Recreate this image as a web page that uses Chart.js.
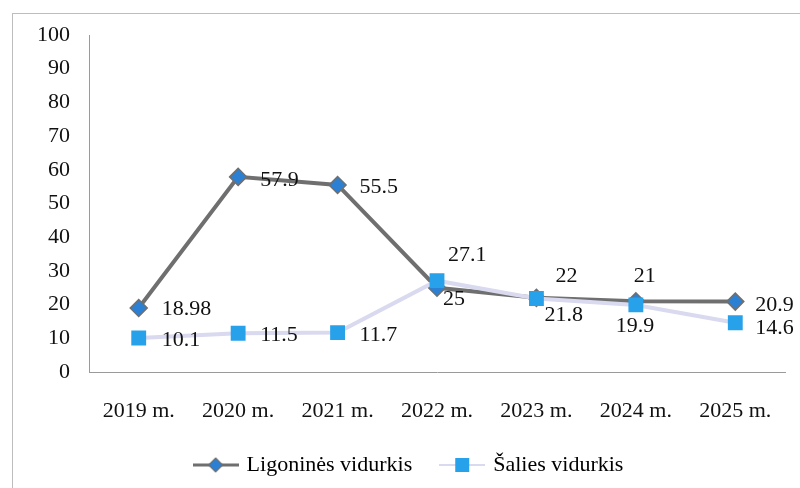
<!DOCTYPE html>
<html><head><meta charset="utf-8">
<script src="https://cdn.jsdelivr.net/npm/chart.js@4"></script>
<style>
html,body{margin:0;padding:0;background:#fff;}
#wrap{position:absolute;left:0;top:0;width:800px;height:488px;}
#frame{position:absolute;left:12px;top:13px;width:790px;height:480px;border:1px solid #bdbdbd;box-sizing:border-box;}
canvas{position:absolute;left:0;top:0;}
</style></head>
<body>
<div id="wrap"><div id="frame"></div><canvas id="c" width="800" height="488"></canvas></div>
<script>
const categories = ["2019 m.","2020 m.","2021 m.","2022 m.","2023 m.","2024 m.","2025 m."];
const ligonines = [18.98, 57.9, 55.5, 25, 22, 21, 20.9];
const salies = [10.1, 11.5, 11.7, 27.1, 21.8, 19.9, 14.6];
const yTicks = [0,10,20,30,40,50,60,70,80,90,100];
const seriesNames = ["Ligoninės vidurkis", "Šalies vidurkis"];

const FONT = "'Liberation Serif', 'Times New Roman', serif";
const ligColor = "#6f6f6f", ligMarker = "#2b80d3";
const salLine = "#d9d9ef", salMarker = "#27a1e9";

function legendIcon(kind){
  const cv = document.createElement('canvas');
  cv.width = 46; cv.height = 18;
  const g = cv.getContext('2d');
  g.lineWidth = kind === 0 ? 3 : 2;
  g.strokeStyle = kind === 0 ? ligColor : salLine;
  g.beginPath(); g.moveTo(0,9); g.lineTo(46,9); g.stroke();
  if (kind === 0){
    g.fillStyle = ligMarker; g.strokeStyle = ligColor; g.lineWidth = 1.2;
    g.beginPath(); g.moveTo(23,2); g.lineTo(30,9); g.lineTo(23,16); g.lineTo(16,9); g.closePath(); g.fill(); g.stroke();
  } else {
    g.fillStyle = salMarker; g.fillRect(16,2,14,14);
  }
  return cv;
}
const icons = [legendIcon(0), legendIcon(1)];

const labelPlugin = {
  id: 'ptLabels',
  afterLayout(chart){
    if (chart.legend){ chart.legend.left += 17; chart.legend.right += 17; }
  },
  afterDatasetsDraw(chart, args, opts){
    const ctx = chart.ctx;
    ctx.save();
    ctx.font = "22px " + FONT;
    ctx.fillStyle = "#111";
    ctx.textAlign = "left";
    ctx.textBaseline = "middle";
    chart.data.datasets.forEach((ds, i) => {
      const meta = chart.getDatasetMeta(i);
      const offs = opts.offsets[i];
      meta.data.forEach((pt, j) => {
        const v = ds.data[j];
        ctx.fillText(String(v), pt.x + offs[j][0], pt.y + offs[j][1]);
      });
    });
    ctx.restore();
  }
};

new Chart(document.getElementById('c'), {
  type: 'line',
  data: {
    labels: categories,
    datasets: [
      { label: seriesNames[0], data: ligonines, borderColor: ligColor, borderWidth: 4,
        pointStyle: 'rectRot', pointRadius: 8.5, pointBackgroundColor: ligMarker,
        pointBorderColor: ligColor, pointBorderWidth: 1.5, tension: 0, order: 2 },
      { label: seriesNames[1], data: salies, borderColor: salLine, borderWidth: 4,
        pointStyle: 'rect', pointRadius: 10.5, pointBackgroundColor: salMarker,
        pointBorderColor: salMarker, pointBorderWidth: 0, tension: 0, order: 1 }
    ]
  },
  options: {
    responsive: false,
    animation: false,
    events: [],
    layout: { padding: { top: 35, right: 15, left: 0, bottom: 2 } },
    scales: {
      x: {
        offset: true,
        grid: { display: false, drawTicks: false },
        border: { display: true, color: '#9a9a9a', width: 1 },
        ticks: { font: { family: FONT, size: 22 }, color: '#111', padding: 26, maxRotation: 0 },
        afterFit(s){ s.height = 52; }
      },
      y: {
        min: 0, max: 100,
        afterBuildTicks(s){ s.ticks = yTicks.map(v => ({ value: v })); },
        grid: { display: false, drawTicks: false },
        border: { display: true, color: '#9a9a9a', width: 1 },
        ticks: { font: { family: FONT, size: 22 }, color: '#111', padding: 19 },
        afterFit(s){ s.width = 89; }
      }
    },
    plugins: {
      tooltip: { enabled: false },
      legend: {
        position: 'bottom',
        labels: {
          font: { family: FONT, size: 22 }, color: '#111',
          usePointStyle: true, pointStyleWidth: 40, boxHeight: 18, padding: 30,
          generateLabels(chart){
            return chart.data.datasets.map((ds, i) => ({
              text: ds.label, pointStyle: icons[i], datasetIndex: i,
              fillStyle: 'transparent', strokeStyle: 'transparent', lineWidth: 0, hidden: false
            }));
          }
        }
      },
      ptLabels: {
        offsets: [
          [[23,1],[22,3],[22,2],[6,11],[19,-22],[-2,-25],[20,4]],
          [[23,2],[22,2],[22,3],[11,-25],[8,17],[-20,21],[20,5]]
        ]
      }
    }
  },
  plugins: [labelPlugin]
});
</script>
</body></html>
